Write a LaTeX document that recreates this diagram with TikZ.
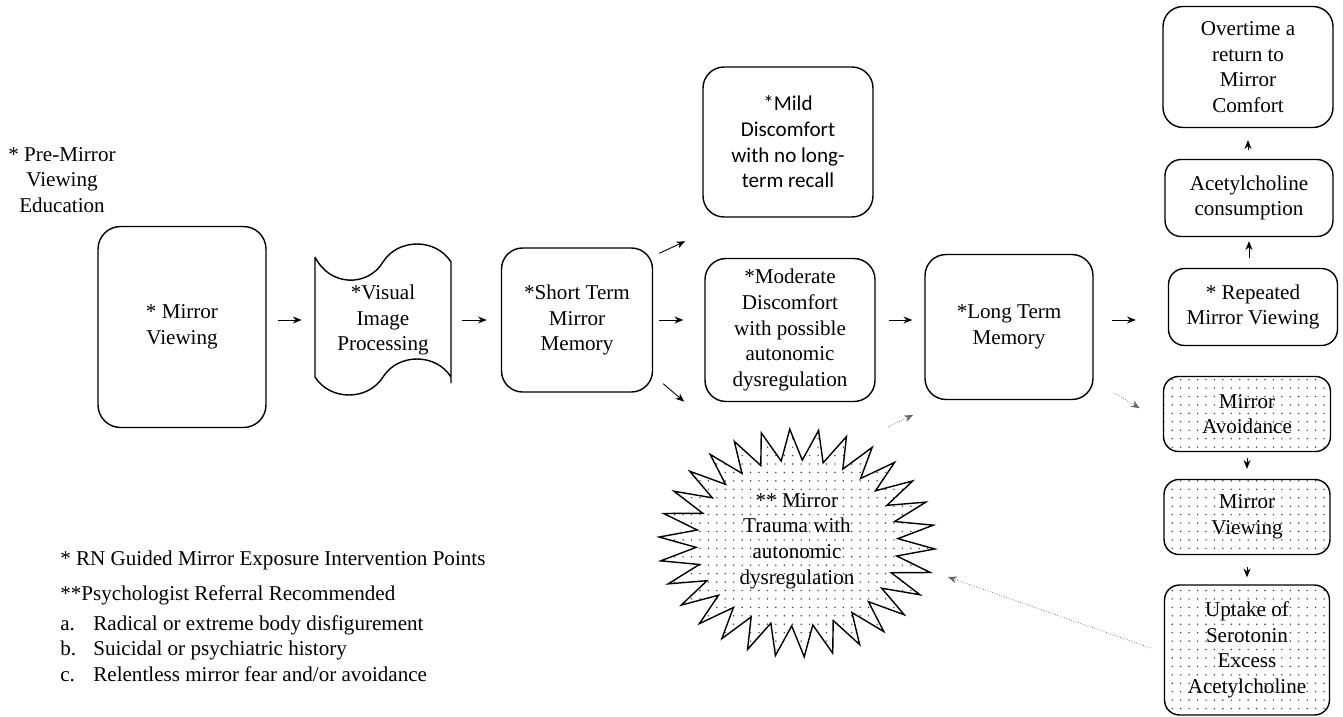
\documentclass[tikz,border=0pt]{standalone}
\usepackage{fontspec}
\setmainfont{Liberation Serif}
\newfontfamily\calibri{Carlito}
\usepackage{tikz}
\usetikzlibrary{arrows,arrows.meta,positioning,calc,patterns,patterns.meta}

\tikzset{
  box/.style={draw, line width=0.8pt, rounded corners=0.42cm, align=center,
    font=\fontsize{12}{14.6}\selectfont, inner sep=2pt},
  dotbox/.style={box, rounded corners=0.3cm,
    pattern={Dots[distance=4.8pt, radius=0.45pt]}, pattern color=black!80},
  txt/.style={align=center, font=\fontsize{12}{14.6}\selectfont, inner sep=0pt},
  arr/.style={->, line width=0.5pt},
  faint/.style={->, line width=0.4pt, draw=black!60, densely dotted},
}

\begin{document}
\begin{tikzpicture}[x=0.02cm, y=-0.02cm, >={Stealth[length=5pt,width=4pt]}]
\useasboundingbox (0,0) rectangle (1343,717);
% Education note
  \node[txt] (edu) at (62,180) {* Pre-Mirror\\Viewing\\Education};
% Main row
  \node[box, minimum width=3.36cm, minimum height=4.02cm, rounded corners=0.45cm] (mview) at (182,327) {* Mirror\\Viewing};
  \node[txt, minimum width=2.72cm, minimum height=2.4cm] (vip) at (383,320) {*Visual\\Image\\Processing};
  \node[box, minimum width=3.02cm, minimum height=2.88cm] (stm) at (577,320) {*Short Term\\Mirror\\Memory};
  \node[box, minimum width=3.4cm, minimum height=3.0cm, font=\calibri\fontsize{12}{14.6}\selectfont] (mild) at (788,142) {*Mild\\Discomfort\\with no long-\\term recall};
  \node[box, minimum width=3.4cm, minimum height=2.86cm] (moder) at (790,330) {*Moderate\\Discomfort\\with possible\\autonomic\\dysregulation};
  \node[box, minimum width=3.36cm, minimum height=2.9cm] (ltm) at (1009,327) {*Long Term\\Memory};
% Right column, upper
  \node[box, minimum width=3.38cm, minimum height=1.54cm, rounded corners=0.32cm] (rep) at (1253,307) {* Repeated\\Mirror Viewing};
  \node[box, minimum width=3.36cm, minimum height=1.54cm, rounded corners=0.32cm] (acet) at (1249,198) {Acetylcholine\\consumption};
  \node[box, minimum width=3.4cm, minimum height=2.42cm, rounded corners=0.4cm] (over) at (1248,67) {Overtime a\\return to\\Mirror\\Comfort};
% Right column, lower (dotted)
  \node[dotbox, minimum width=3.34cm, minimum height=1.5cm] (avoid) at (1247,414) {Mirror\\Avoidance};
  \node[dotbox, minimum width=3.32cm, minimum height=1.5cm] (mview2) at (1247,517) {Mirror\\Viewing};
  \node[dotbox, minimum width=3.3cm, minimum height=2.6cm] (uptake) at (1247,650) {Uptake of\\Serotonin\\Excess\\Acetylcholine};

% Tape outline round the image processing
  \draw[line width=0.8pt] (315,257) .. controls (330,287) and (368,287) .. (383,262)
    .. controls (398,238) and (436,238) .. (451,262) -- (451,383)
    (451,377) .. controls (436,353) and (398,353) .. (383,377)
    .. controls (368,401) and (330,401) .. (315,377) -- (315,257);

% Starburst
  \draw[line width=0.8pt, pattern={Dots[distance=4.8pt, radius=0.45pt]}, pattern color=black!80]
    plot[variable=\t, samples at={0,...,59}]
    ({797+(mod(\t,2)==0 ? 138 : 101)*cos(\t*6+3)}, {543+(mod(\t,2)==0 ? 114 : 83)*sin(\t*6+3)}) -- cycle;
  \node[txt] (trauma) at (797,541) {** Mirror\\Trauma with\\autonomic\\dysregulation};
  \coordinate (tin) at (948,577);
  \coordinate (tout) at (888,427);

% Arrows along the main row
  \draw[arr, shorten <=0.22cm, shorten >=0.26cm] (mview.east |- stm.east) -- (vip.west |- stm.east);
  \draw[arr, shorten <=0.22cm, shorten >=0.28cm] (vip.east |- stm.east) -- (stm.west);
  \draw[arr] (stm.north east) ++(6,6) -- ++(26,-12);
  \draw[arr, shorten <=0.12cm, shorten >=0.42cm] (stm.east) -- (moder.west |- stm.east);
  \draw[arr] (stm.south east) ++(10,-9) -- ++(21,18);
  \draw[arr, shorten <=0.26cm, shorten >=0.24cm] (moder.east |- stm.east) -- (ltm.west |- stm.east);
  \draw[arr, shorten <=0.36cm, shorten >=0.64cm] (ltm.east |- stm.east) -- (rep.west |- stm.east);
% Arrows in the right column
  \draw[arr, shorten <=0.2cm, shorten >=0.08cm] (rep.north -| acet.south) -- (acet.south);
  \draw[arr, shorten <=0.18cm, shorten >=0.24cm] (acet.north -| over.south) -- (over.south);
  \draw[arr, faint] (ltm.south east) ++(21,-7) -- ++(25,15);
  \draw[arr, shorten <=0.12cm, shorten >=0.2cm] (avoid.south) -- (mview2.north);
  \draw[arr, shorten <=0.24cm, shorten >=0.14cm] (mview2.south) -- (uptake.north);
% Back to the starburst and on to memory
  \draw[faint] ([xshift=-0.26cm, yshift=0.04cm]uptake.west) -- (tin);
  \draw[faint] (tout) -- ++(25,-12);

% Legend
  \node[txt, anchor=west] (leg1) at (60,560) {* RN Guided Mirror Exposure Intervention Points};
  \node[txt, anchor=west] (leg2) at (60,595) {**Psychologist Referral Recommended};
  \node[txt, anchor=north west, align=left] (leg3) at (60,612) {%
    \begin{tabular}{@{}p{0.66cm}@{}l@{}}
    a. & Radical or extreme body disfigurement\\
    b. & Suicidal or psychiatric history\\
    c. & Relentless mirror fear and/or avoidance
    \end{tabular}};
\end{tikzpicture}
\end{document}
